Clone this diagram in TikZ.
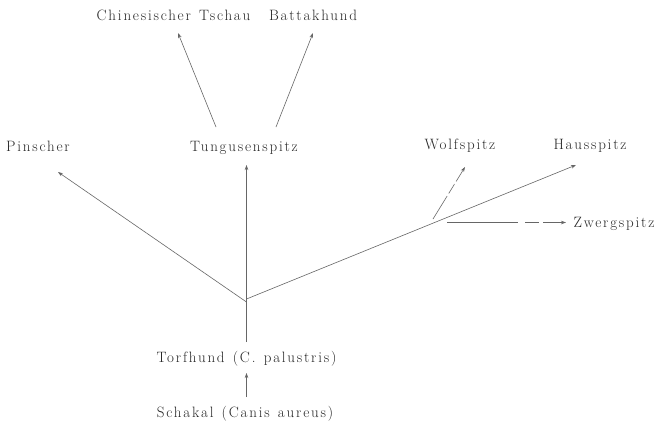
\documentclass[tikz,border=0pt]{standalone}
\usepackage{fontspec}
\setmainfont{Latin Modern Roman}[LetterSpace=12,WordSpace=1.3]
\usetikzlibrary{arrows.meta}
\begin{document}
\begin{tikzpicture}[x=1pt,y=-1pt,
  lbl/.style={font=\fontsize{15}{17}\selectfont, inner sep=0pt, anchor=base, text=black!85},
  br/.style={draw=black!60, line width=0.6pt},
  arr/.style={br, -{Stealth[length=5pt,width=3.5pt]}}]
\useasboundingbox[fill=white] (0,0) rectangle (662,421);
% labels
\node[lbl] (chin)  at (173.5,20) {Chinesischer Tschau};
\node[lbl] (batt)  at (313,20)   {Battakhund};
\node[lbl] (pin)   at (38,151)   {Pinscher};
\node[lbl] (tung)  at (244,151)  {Tungusenspitz};
\node[lbl] (wolf)  at (460,149)  {Wolfspitz};
\node[lbl] (haus)  at (590,149)  {Hausspitz};
\node[lbl] (zwerg) at (614,227)  {Zwergspitz};
\node[lbl] (torf)  at (246.5,362) {Torfhund (C. palustris)};
\node[lbl] (schak) at (245,417)  {Schakal (Canis aureus)};
% connector end points
\coordinate (sTop)  at (246.5,397);
\coordinate (tBot)  at (246.5,373);
\coordinate (tUp)   at (246.5,342);
\coordinate (j)     at (246.5,302);
\coordinate (jh)    at (246.5,299);
\coordinate (tungT) at (246.5,165);
\coordinate (pinT)  at (58,172);
\coordinate (hausT) at (576,165);
\coordinate (wolfS) at (433,219);
\coordinate (wolfT) at (465,167);
\coordinate (zwS)   at (447,222.5);
\coordinate (zwT)   at (566,222.5);
\coordinate (cS)    at (216,127);
\coordinate (cT)    at (178,33);
\coordinate (bS)    at (276,127);
\coordinate (bT)    at (313,33);
% connectors
\draw[arr] (sTop) -- (tBot);
\draw[br] (tUp) -- (j);
\draw[arr] (j) -- (tungT);
\draw[arr] (j) -- (pinT);
\draw[arr] (jh) -- (hausT);
\draw[arr, dash pattern=on 27pt off 3pt on 11pt off 3pt on 40pt] (wolfS) -- (wolfT);
\draw[arr, dash pattern=on 71pt off 7pt on 14pt off 4pt on 40pt] (zwS) -- (zwT);
\draw[arr] (cS) -- (cT);
\draw[arr] (bS) -- (bT);
\end{tikzpicture}
\end{document}
